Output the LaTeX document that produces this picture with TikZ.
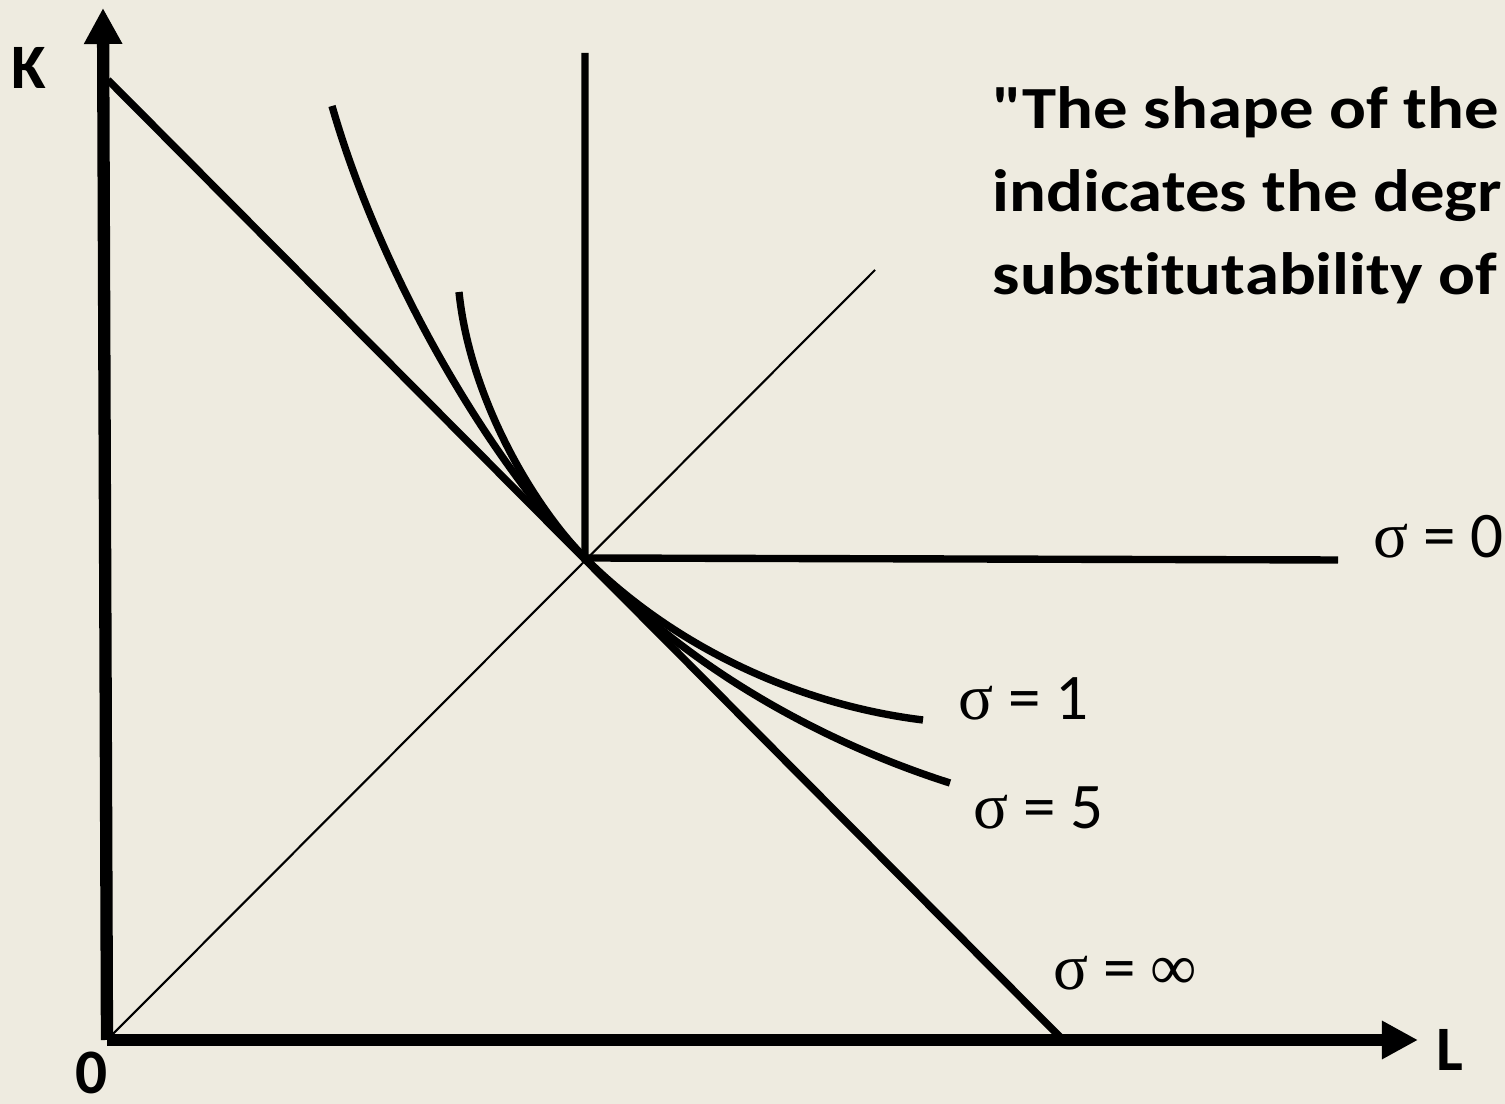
\documentclass[tikz,border=0pt]{standalone}
\usepackage{graphicx}
\usepackage{fontspec}
\setmainfont{Carlito}
\newfontfamily\headfont{Carlito}[Ligatures={TeXOff,CommonOff}]
\newfontfamily\greekfont{Liberation Serif}
\usetikzlibrary{arrows.meta, positioning}
\definecolor{paper}{HTML}{EEEBE0}

\begin{document}
\begin{tikzpicture}[x=0.01cm, y=-0.01cm,
	axis/.style={line width=3.5pt, -{Triangle[length=3.6mm, width=3.6mm]}},
	curve/.style={line width=2.1pt},
	guide/.style={line width=0.6pt},
	lbl/.style={font=\fontsize{18}{20}\selectfont\bfseries, inner sep=0pt},
	sig/.style={font=\fontsize{18.5}{20}\selectfont, inner sep=0pt, anchor=base west},
	headline/.style={font=\headfont\fontsize{17}{20}\selectfont\bfseries, inner sep=0pt, anchor=base west}]
	\fill[paper] (0,0) rectangle (1505,1104);
	\useasboundingbox (0,0) rectangle (1505,1104);

	\coordinate (o) at (107,1040);
	\coordinate (ktop) at (103,8);
	\coordinate (lend) at (1418,1040);
	\coordinate (c) at (585,558);

	% axes
	\draw[axis] (o) -- (ktop);
	\draw[axis] (o) -- (lend);
	\node[lbl] (k) at (29,68) {K};
	\node[lbl] (l) at (1450,1050) {L};
	\node[lbl] (zero) at (92,1073) {0};

	% ray from the origin
	\draw[guide] (o) -- (875,270);

	% sigma = infinity
	\coordinate (kint) at (108,80);
	\coordinate (lint) at (1063,1040);
	\draw[curve] (kint) -- (lint);

	% sigma = 0
	\coordinate (ltop) at (585,53);
	\coordinate (lright) at (1338,560);
	\draw[curve] (ltop) -- (c) -- (lright);

	% sigma = 5
	\draw[curve] (332,106) .. controls (385,290) and (500,473) .. (c)
		.. controls (695,678) and (840,748) .. (950,783);
	% sigma = 1
	\draw[curve] (459,292) .. controls (470,400) and (535,508) .. (c)
		.. controls (675,648) and (800,705) .. (923,720);

	\node[sig] (s0) at (1373,558) {{\greekfont σ} = 0};
	\node[sig] (s1) at (958,720) {{\greekfont σ} = 1};
	\node[sig] (s5) at (973,829) {{\greekfont σ} = 5};
	\node[sig] (sinf) at (1053,990) {{\greekfont σ} = {\greekfont ∞}};

	\node[headline] (t1) at (992,129) {\scalebox{1.15}[1]{"The shape of the}};
	\node[headline] (t2) at (992,212) {\scalebox{1.15}[1]{indicates the degr}};
	\node[headline] (t3) at (992,295) {\scalebox{1.15}[1]{substitutability of}};
\end{tikzpicture}
\end{document}
